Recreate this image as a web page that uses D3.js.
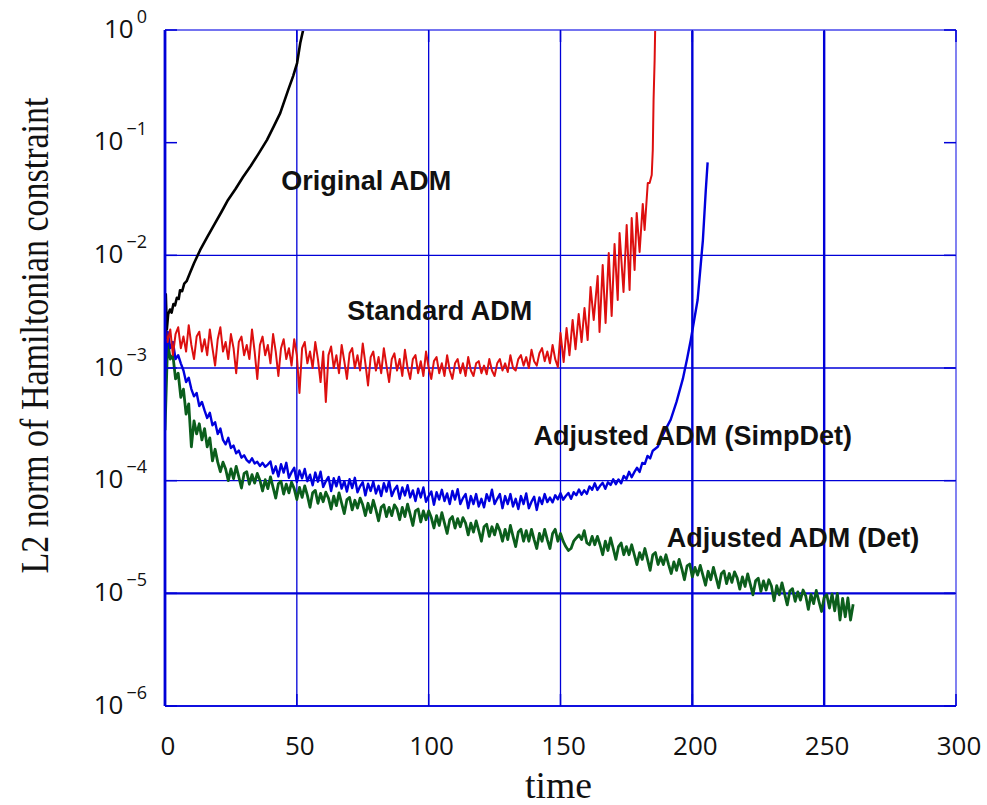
<!DOCTYPE html>
<html>
<head>
<meta charset="utf-8">
<script src="https://cdn.jsdelivr.net/npm/d3@7"></script>
<style>
body { margin: 0; background: #fff; }
</style>
</head>
<body>
<svg id="chart" width="987" height="805"></svg>
<script>
// axis ticks
var xTicks = [0, 50, 100, 150, 200, 250, 300];
var yDecades = [1e-6, 1e-5, 1e-4, 1e-3, 1e-2, 1e-1, 1e0];
var yGridDecades = [1e-5, 1e-4, 1e-3, 1e-2];

// Original ADM
var origTime = [0, 0.3, 0.7, 1.2, 1.9, 2.5, 3.2, 3.8, 4.5, 5.2, 5.7, 6.5, 7.3, 8.2, 9.5, 11, 13.3, 16, 19, 21.5, 23.9, 26.8, 29.6, 32.5, 35.5, 38.7, 41.3, 43.7, 46.7, 48.6, 50.1, 51.3, 52.4];
var origNorm = [1.8e-3, 4.5e-3, 2.2e-3, 3.0e-3, 3.3e-3, 3.1e-3, 3.7e-3, 3.6e-3, 4.2e-3, 4.1e-3, 4.9e-3, 4.8e-3, 5.6e-3, 5.9e-3, 7.0e-3, 8.5e-3, 1.11e-2, 1.45e-2, 1.93e-2, 2.45e-2, 3.1e-2, 3.9e-2, 4.96e-2, 6.2e-2, 8.0e-2, 0.106, 0.14, 0.183, 0.293, 0.39, 0.509, 0.767, 1.0];

// Standard ADM: output every time unit from t = 0, then the oscillating blow-up
var stdStep = 1;
var stdNoisy = [
  2.4e-3, 1.7e-3, 2.2e-3, 1.3e-3, 2.0e-3, 2.3e-3, 1.5e-3, 1.9e-3, 1.4e-3, 2.4e-3,
  1.6e-3, 1.2e-3, 1.9e-3, 2.1e-3, 1.4e-3, 1.8e-3, 1.3e-3, 2.2e-3, 1.5e-3, 1.05e-3,
  1.8e-3, 2.3e-3, 1.4e-3, 1.7e-3, 1.2e-3, 2.0e-3, 1.5e-3, 0.9e-3, 1.7e-3, 1.9e-3,
  1.3e-3, 1.6e-3, 1.2e-3, 2.2e-3, 1.4e-3, 0.8e-3, 1.6e-3, 1.9e-3, 1.3e-3, 1.6e-3,
  1.1e-3, 2.0e-3, 1.4e-3, 0.85e-3, 1.5e-3, 1.8e-3, 1.2e-3, 1.5e-3, 1.05e-3, 1.8e-3,
  1.3e-3, 0.6e-3, 1.5e-3, 1.7e-3, 1.1e-3, 1.4e-3, 1.0e-3, 1.7e-3, 1.2e-3, 0.75e-3,
  1.4e-3, 0.5e-3, 1.3e-3, 1.55e-3, 1.0e-3, 1.3e-3, 0.9e-3, 1.6e-3, 1.15e-3, 0.8e-3,
  1.35e-3, 1.5e-3, 1.0e-3, 1.3e-3, 0.95e-3, 1.65e-3, 1.1e-3, 0.7e-3, 1.25e-3, 1.4e-3,
  0.95e-3, 1.25e-3, 0.9e-3, 1.5e-3, 1.05e-3, 0.75e-3, 1.2e-3, 1.35e-3, 0.95e-3, 1.2e-3,
  0.85e-3, 1.45e-3, 1.0e-3, 0.8e-3, 1.2e-3, 1.3e-3, 0.9e-3, 1.15e-3, 0.85e-3, 1.4e-3,
  1.0e-3, 0.8e-3, 1.15e-3, 1.25e-3, 0.9e-3, 1.1e-3, 0.85e-3, 1.3e-3, 0.95e-3, 0.8e-3,
  1.1e-3, 1.2e-3, 0.9e-3, 1.1e-3, 0.85e-3, 1.25e-3, 0.95e-3, 0.85e-3, 1.1e-3, 1.15e-3,
  0.9e-3, 1.05e-3, 0.88e-3, 1.2e-3, 0.95e-3, 0.85e-3, 1.1e-3, 1.2e-3, 0.95e-3, 1.1e-3,
  0.92e-3, 1.3e-3, 1.0e-3, 0.95e-3, 1.2e-3, 1.3e-3, 1.05e-3, 1.25e-3, 1.0e-3, 1.45e-3,
  1.15e-3, 1.05e-3, 1.35e-3, 1.5e-3, 1.15e-3, 1.4e-3, 1.1e-3, 1.6e-3, 1.2e-3, 1.02e-3
];
var stdTailTime = [150.0, 151.2, 152.3, 153.4, 154.6, 155.7, 156.9, 158.0, 159.1, 160.3, 161.4, 162.6, 164.1, 164.8, 166.0, 167.1, 168.3, 169.4, 170.5, 171.7, 172.4, 173.9, 175.1, 176.2, 177.0, 178.1, 178.9, 180.0, 181.2, 181.9, 183.1, 183.8, 184.6, 185.0, 185.3, 185.7, 185.9];
var stdTailNorm = [2.05e-3, 1.13e-3, 2.26e-3, 1.30e-3, 2.67e-3, 1.47e-3, 3.01e-3, 1.70e-3, 3.41e-3, 1.77e-3, 5.24e-3, 2.67e-3, 6.56e-3, 2.09e-3, 8.21e-3, 2.51e-3, 1.05e-2, 2.90e-3, 1.26e-2, 4.02e-3, 1.58e-2, 4.73e-3, 1.86e-2, 4.92e-3, 2.14e-2, 7.41e-3, 2.38e-2, 1.07e-2, 2.86e-2, 1.68e-2, 4.39e-2, 4.39e-2, 5.16e-2, 8.6e-2, 0.24, 0.54, 1.0];

// Adjusted ADM (SimpDet): output every time unit from t = 0, then the blow-up
var simpStep = 1;
var simpNoisy = [
  9e-4, 21e-4, 15e-4, 17e-4, 12e-4, 13e-4, 11e-4, 9.5e-4, 7.5e-4, 8.2e-4,
  6.5e-4, 5.6e-4, 6.0e-4, 4.6e-4, 5.0e-4, 4.2e-4, 3.6e-4, 4.0e-4, 3.1e-4, 3.3e-4,
  2.6e-4, 2.9e-4, 2.3e-4, 2.1e-4, 2.4e-4, 1.95e-4, 2.05e-4, 1.75e-4, 1.85e-4, 1.6e-4,
  1.68e-4, 1.52e-4, 1.45e-4, 1.58e-4, 1.42e-4, 1.47e-4, 1.35e-4, 1.44e-4, 1.33e-4, 1.39e-4,
  1.48e-4, 1.16e-4, 1.34e-4, 1.09e-4, 1.4e-4, 1.18e-4, 1.44e-4, 1.06e-4, 1.19e-4, 1.3e-4,
  0.97e-4, 1.23e-4, 1.05e-4, 1.27e-4, 0.99e-4, 1.13e-4, 0.91e-4, 1.18e-4, 0.98e-4, 1.2e-4,
  0.88e-4, 0.99e-4, 1.08e-4, 0.81e-4, 1.05e-4, 0.89e-4, 1.08e-4, 0.85e-4, 0.99e-4, 0.8e-4,
  1.03e-4, 0.86e-4, 1.06e-4, 0.79e-4, 0.89e-4, 0.97e-4, 0.74e-4, 0.94e-4, 0.81e-4, 0.98e-4,
  0.77e-4, 0.9e-4, 0.73e-4, 0.95e-4, 0.8e-4, 0.99e-4, 0.73e-4, 0.83e-4, 0.9e-4, 0.69e-4,
  0.87e-4, 0.74e-4, 0.91e-4, 0.71e-4, 0.82e-4, 0.66e-4, 0.85e-4, 0.71e-4, 0.87e-4, 0.65e-4,
  0.73e-4, 0.8e-4, 0.61e-4, 0.79e-4, 0.68e-4, 0.83e-4, 0.66e-4, 0.77e-4, 0.62e-4, 0.81e-4,
  0.68e-4, 0.84e-4, 0.62e-4, 0.7e-4, 0.76e-4, 0.57e-4, 0.73e-4, 0.62e-4, 0.76e-4, 0.59e-4,
  0.69e-4, 0.58e-4, 0.76e-4, 0.66e-4, 0.83e-4, 0.62e-4, 0.69e-4, 0.76e-4, 0.57e-4, 0.73e-4,
  0.62e-4, 0.76e-4, 0.59e-4, 0.69e-4, 0.56e-4, 0.73e-4, 0.62e-4, 0.77e-4, 0.57e-4, 0.65e-4,
  0.72e-4, 0.55e-4, 0.71e-4, 0.62e-4, 0.76e-4, 0.646e-4, 0.707e-4, 0.642e-4, 0.742e-4, 0.683e-4,
  0.774e-4, 0.677e-4, 0.73e-4, 0.777e-4, 0.69e-4, 0.79e-4, 0.743e-4, 0.835e-4, 0.75e-4, 0.82e-4,
  0.763e-4, 0.89e-4, 0.829e-4, 0.948e-4, 0.827e-4, 0.9e-4, 0.956e-4, 0.846e-4, 0.967e-4, 0.917e-4,
  1.027e-4, 0.931e-4, 1.025e-4, 0.949e-4, 1.102e-4, 1.034e-4, 1.199e-4, 1.072e-4, 1.19e-4, 1.302e-4,
  1.196e-4, 1.435e-4, 1.409e-4, 1.659e-4, 1.577e-4, 1.845e-4
];
var simpTailTime = [186.9, 188, 190, 191.8, 194, 196.4, 198, 199.4, 202, 204, 205.1, 205.8];
var simpTailNorm = [2.0e-4, 2.31e-4, 2.9e-4, 3.48e-4, 5.0e-4, 8.0e-4, 1.2e-3, 1.77e-3, 4.01e-3, 1.36e-2, 3.78e-2, 6.69e-2];

// Adjusted ADM (Det): output every time unit from t = 0
var detStep = 1;
var detNoisy = [
  2.8e-4, 17e-4, 12e-4, 13e-4, 8e-4, 9e-4, 5.5e-4, 6.5e-4, 3.9e-4, 4.8e-4,
  2.0e-4, 3.4e-4, 2.6e-4, 3.2e-4, 2.3e-4, 2.9e-4, 2.0e-4, 2.4e-4, 1.5e-4, 1.9e-4,
  1.46e-4, 1.2e-4, 1.46e-4, 1.27e-4, 1.0e-4, 1.27e-4, 1.04e-4, 1.34e-4, 1.08e-4, 0.86e-4,
  1.16e-4, 1.2e-4, 0.93e-4, 1.13e-4, 0.95e-4, 1.16e-4, 1.01e-4, 0.81e-4, 1.02e-4, 0.85e-4,
  1.08e-4, 0.87e-4, 0.7e-4, 0.94e-4, 0.99e-4, 0.76e-4, 0.93e-4, 0.78e-4, 0.97e-4, 0.85e-4,
  0.68e-4, 0.87e-4, 0.71e-4, 0.9e-4, 0.74e-4, 0.58e-4, 0.78e-4, 0.82e-4, 0.63e-4, 0.77e-4,
  0.65e-4, 0.79e-4, 0.7e-4, 0.56e-4, 0.73e-4, 0.6e-4, 0.78e-4, 0.63e-4, 0.51e-4, 0.68e-4,
  0.71e-4, 0.55e-4, 0.67e-4, 0.57e-4, 0.7e-4, 0.61e-4, 0.49e-4, 0.63e-4, 0.52e-4, 0.67e-4,
  0.55e-4, 0.44e-4, 0.58e-4, 0.61e-4, 0.48e-4, 0.58e-4, 0.49e-4, 0.61e-4, 0.56e-4, 0.45e-4,
  0.58e-4, 0.48e-4, 0.62e-4, 0.5e-4, 0.4e-4, 0.54e-4, 0.56e-4, 0.43e-4, 0.54e-4, 0.45e-4,
  0.54e-4, 0.47e-4, 0.38e-4, 0.49e-4, 0.4e-4, 0.52e-4, 0.42e-4, 0.34e-4, 0.45e-4, 0.48e-4,
  0.38e-4, 0.46e-4, 0.39e-4, 0.47e-4, 0.42e-4, 0.33e-4, 0.42e-4, 0.35e-4, 0.44e-4, 0.36e-4,
  0.29e-4, 0.39e-4, 0.41e-4, 0.32e-4, 0.39e-4, 0.33e-4, 0.41e-4, 0.36e-4, 0.29e-4, 0.37e-4,
  0.3e-4, 0.4e-4, 0.32e-4, 0.26e-4, 0.35e-4, 0.37e-4, 0.29e-4, 0.36e-4, 0.29e-4, 0.37e-4,
  0.3e-4, 0.25e-4, 0.34e-4, 0.29e-4, 0.37e-4, 0.3e-4, 0.25e-4, 0.34e-4, 0.37e-4, 0.29e-4,
  0.34e-4, 0.29e-4, 0.26e-4, 0.24e-4, 0.25e-4, 0.29e-4, 0.31e-4, 0.33e-4, 0.3e-4, 0.36e-4,
  0.28e-4, 0.27e-4, 0.32e-4, 0.27e-4, 0.32e-4, 0.27e-4, 0.22e-4, 0.29e-4, 0.24e-4, 0.31e-4,
  0.25e-4, 0.2e-4, 0.26e-4, 0.28e-4, 0.22e-4, 0.26e-4, 0.22e-4, 0.27e-4, 0.22e-4, 0.18e-4,
  0.23e-4, 0.2e-4, 0.25e-4, 0.2e-4, 0.16e-4, 0.22e-4, 0.23e-4, 0.18e-4, 0.21e-4, 0.18e-4,
  0.22e-4, 0.18e-4, 0.15e-4, 0.19e-4, 0.16e-4, 0.2e-4, 0.166e-4, 0.132e-4, 0.175e-4, 0.182e-4,
  0.14e-4, 0.17e-4, 0.145e-4, 0.177e-4, 0.145e-4, 0.118e-4, 0.157e-4, 0.132e-4, 0.17e-4, 0.138e-4,
  0.112e-4, 0.149e-4, 0.158e-4, 0.122e-4, 0.15e-4, 0.125e-4, 0.155e-4, 0.137e-4, 0.109e-4, 0.14e-4,
  0.115e-4, 0.149e-4, 0.12e-4, 0.097e-4, 0.129e-4, 0.136e-4, 0.104e-4, 0.129e-4, 0.107e-4, 0.132e-4,
  0.116e-4, 0.086e-4, 0.117e-4, 0.097e-4, 0.124e-4, 0.099e-4, 0.079e-4, 0.105e-4, 0.11e-4, 0.085e-4,
  0.103e-4, 0.087e-4, 0.107e-4, 0.095e-4, 0.072e-4, 0.098e-4, 0.081e-4, 0.106e-4, 0.085e-4, 0.069e-4,
  0.092e-4, 0.097e-4, 0.074e-4, 0.099e-4, 0.07e-4, 0.1e-4, 0.058e-4, 0.09e-4, 0.062e-4, 0.091e-4,
  0.058e-4, 0.08e-4
];

var labels = ["Original ADM", "Standard ADM", "Adjusted ADM (SimpDet)", "Adjusted ADM (Det)"];
// where each label sits, in data units (time, norm) of its left baseline
var labelAt = [[44.1, 3.8e-2], [69.1, 2.67e-3], [139.8, 2.07e-4], [190.3, 2.58e-5]];

var Chart = (function () {
    function Chart() {
        this.left = 165;
        this.right = 956;
        this.top = 30;
        this.bottom = 706;
        this.svg = d3.select("svg#chart");
        this.x = d3.scaleLinear().domain([0, 300]).range([this.left, this.right]);
        this.y = d3.scaleLog().domain([1e-6, 1]).range([this.bottom, this.top]);
    }
    Chart.prototype.sampled = function (values, step) {
        return values.map(function (v, i) { return [i * step, v]; });
    };
    Chart.prototype.paired = function (times, values) {
        return times.map(function (t, i) { return [t, values[i]]; });
    };
    Chart.prototype.drawGrid = function () {
        var _this = this;
        var g = this.svg.append("g");
        g.selectAll("line.vgrid").data(xTicks.slice(1, -1)).enter().append("line")
            .attr("x1", function (d) { return _this.x(d); }).attr("x2", function (d) { return _this.x(d); })
            .attr("y1", this.top).attr("y2", this.bottom)
            .attr("stroke", "#0000d8")
            .attr("stroke-width", function (d) { return d >= 200 ? 2.4 : 1.3; });
        g.selectAll("line.hgrid").data(yGridDecades).enter().append("line")
            .attr("x1", this.left).attr("x2", this.right)
            .attr("y1", function (d) { return _this.y(d); }).attr("y2", function (d) { return _this.y(d); })
            .attr("stroke", "#0000d8")
            .attr("stroke-width", function (d) { return d === 1e-5 ? 2.2 : 1.3; });
    };
    Chart.prototype.drawFrame = function () {
        var _this = this;
        var g = this.svg.append("g");
        g.append("line").attr("x1", this.left).attr("x2", this.right).attr("y1", this.top).attr("y2", this.top)
            .attr("stroke", "#7474f0").attr("stroke-width", 1.8);
        g.append("line").attr("x1", this.right).attr("x2", this.right).attr("y1", this.top).attr("y2", this.bottom)
            .attr("stroke", "#7474f0").attr("stroke-width", 1.8);
        g.append("line").attr("x1", this.left).attr("x2", this.right).attr("y1", this.bottom).attr("y2", this.bottom)
            .attr("stroke", "#1010e0").attr("stroke-width", 2.2);
        g.append("line").attr("x1", this.left).attr("x2", this.left).attr("y1", this.top).attr("y2", this.bottom)
            .attr("stroke", "#0000d8").attr("stroke-width", 2.8);
        // inward ticks on all four sides
        g.selectAll("line.ly").data(yDecades).enter().append("line")
            .attr("x1", this.left).attr("x2", this.left + 12)
            .attr("y1", function (d) { return _this.y(d); }).attr("y2", function (d) { return _this.y(d); })
            .attr("stroke", "#0000d8").attr("stroke-width", 1.5);
        g.selectAll("line.ry").data(yDecades).enter().append("line")
            .attr("x1", this.right - 12).attr("x2", this.right)
            .attr("y1", function (d) { return _this.y(d); }).attr("y2", function (d) { return _this.y(d); })
            .attr("stroke", "#0000d8").attr("stroke-width", 1.5);
        g.selectAll("line.bx").data(xTicks).enter().append("line")
            .attr("x1", function (d) { return _this.x(d); }).attr("x2", function (d) { return _this.x(d); })
            .attr("y1", this.bottom - 12).attr("y2", this.bottom)
            .attr("stroke", "#0000d8").attr("stroke-width", 1.5);
        g.selectAll("line.tx").data(xTicks).enter().append("line")
            .attr("x1", function (d) { return _this.x(d); }).attr("x2", function (d) { return _this.x(d); })
            .attr("y1", this.top).attr("y2", this.top + 12)
            .attr("stroke", "#0000d8").attr("stroke-width", 1.5);
    };
    Chart.prototype.drawTickLabels = function () {
        var _this = this;
        this.svg.append("g").selectAll("text").data(xTicks).enter().append("text")
            .attr("x", function (d) { return _this.x(d) + 3; })
            .attr("y", this.bottom + 49)
            .attr("text-anchor", "middle")
            .style("font-family", "'Open Sans', sans-serif").style("font-size", "26px").style("fill", "#111")
            .text(function (d) { return d; });
        var t = this.svg.append("g").selectAll("text").data(yDecades).enter().append("text")
            .attr("x", this.left - 18)
            .attr("y", function (d) { return _this.y(d) + 7.5; })
            .attr("text-anchor", "end")
            .style("font-family", "'Open Sans', sans-serif").style("fill", "#111");
        t.append("tspan").style("font-size", "26px").text("10");
        t.append("tspan").attr("dx", 3).attr("dy", -15).style("font-size", "18px")
            .text(function (d) { return String(Math.round(Math.log10(d))).replace("-", "\u2212"); });
    };
    Chart.prototype.drawTitles = function () {
        this.svg.append("text")
            .attr("transform", "translate(48," + ((98 + 573) / 2) + ") rotate(-90)")
            .attr("text-anchor", "middle")
            .attr("textLength", 476).attr("lengthAdjust", "spacingAndGlyphs")
            .style("font-family", "'Liberation Serif', 'Times New Roman', serif").style("font-size", "39px").style("fill", "#111")
            .text("L2 norm of Hamiltonian constraint");
        this.svg.append("text")
            .attr("x", (this.left + this.right) / 2 - 2)
            .attr("y", 798)
            .attr("text-anchor", "middle")
            .attr("textLength", 67).attr("lengthAdjust", "spacingAndGlyphs")
            .style("font-family", "'Liberation Serif', 'Times New Roman', serif").style("font-size", "38px").style("fill", "#111")
            .text("time");
    };
    Chart.prototype.drawSeries = function () {
        var _this = this;
        this.svg.append("clipPath").attr("id", "plotclip").append("rect")
            .attr("x", this.left).attr("y", this.top)
            .attr("width", this.right - this.left).attr("height", this.bottom - this.top);
        var line = d3.line()
            .x(function (d) { return _this.x(d[0]); })
            .y(function (d) { return _this.y(d[1]); });
        var series = [
            { pts: this.sampled(detNoisy, detStep), color: "#0b5e1c", width: 2.8 },
            { pts: this.sampled(simpNoisy, simpStep).concat(this.paired(simpTailTime, simpTailNorm)), color: "#0000dd", width: 2.4 },
            { pts: this.sampled(stdNoisy, stdStep).concat(this.paired(stdTailTime, stdTailNorm)), color: "#dd0f0f", width: 2.0 },
            { pts: this.paired(origTime, origNorm), color: "#000000", width: 2.6 }
        ];
        this.svg.append("g").attr("clip-path", "url(#plotclip)")
            .selectAll("path").data(series).enter().append("path")
            .attr("d", function (d) { return line(d.pts); })
            .attr("fill", "none")
            .attr("stroke", function (d) { return d.color; })
            .attr("stroke-width", function (d) { return d.width; })
            .attr("stroke-linejoin", "round");
    };
    Chart.prototype.drawLabels = function () {
        var _this = this;
        this.svg.append("g").selectAll("text").data(labels).enter().append("text")
            .attr("x", function (d, i) { return _this.x(labelAt[i][0]); })
            .attr("y", function (d, i) { return _this.y(labelAt[i][1]); })
            .style("font-family", "'Liberation Sans', Arial, sans-serif")
            .style("font-weight", "bold").style("font-size", "27px").style("fill", "#111")
            .text(function (d) { return d; });
    };
    return Chart;
})();

window.addEventListener("load", function () {
    var chart = new Chart();
    chart.drawGrid();
    chart.drawSeries();
    chart.drawFrame();
    chart.drawTickLabels();
    chart.drawTitles();
    chart.drawLabels();
});
</script>
</body>
</html>
